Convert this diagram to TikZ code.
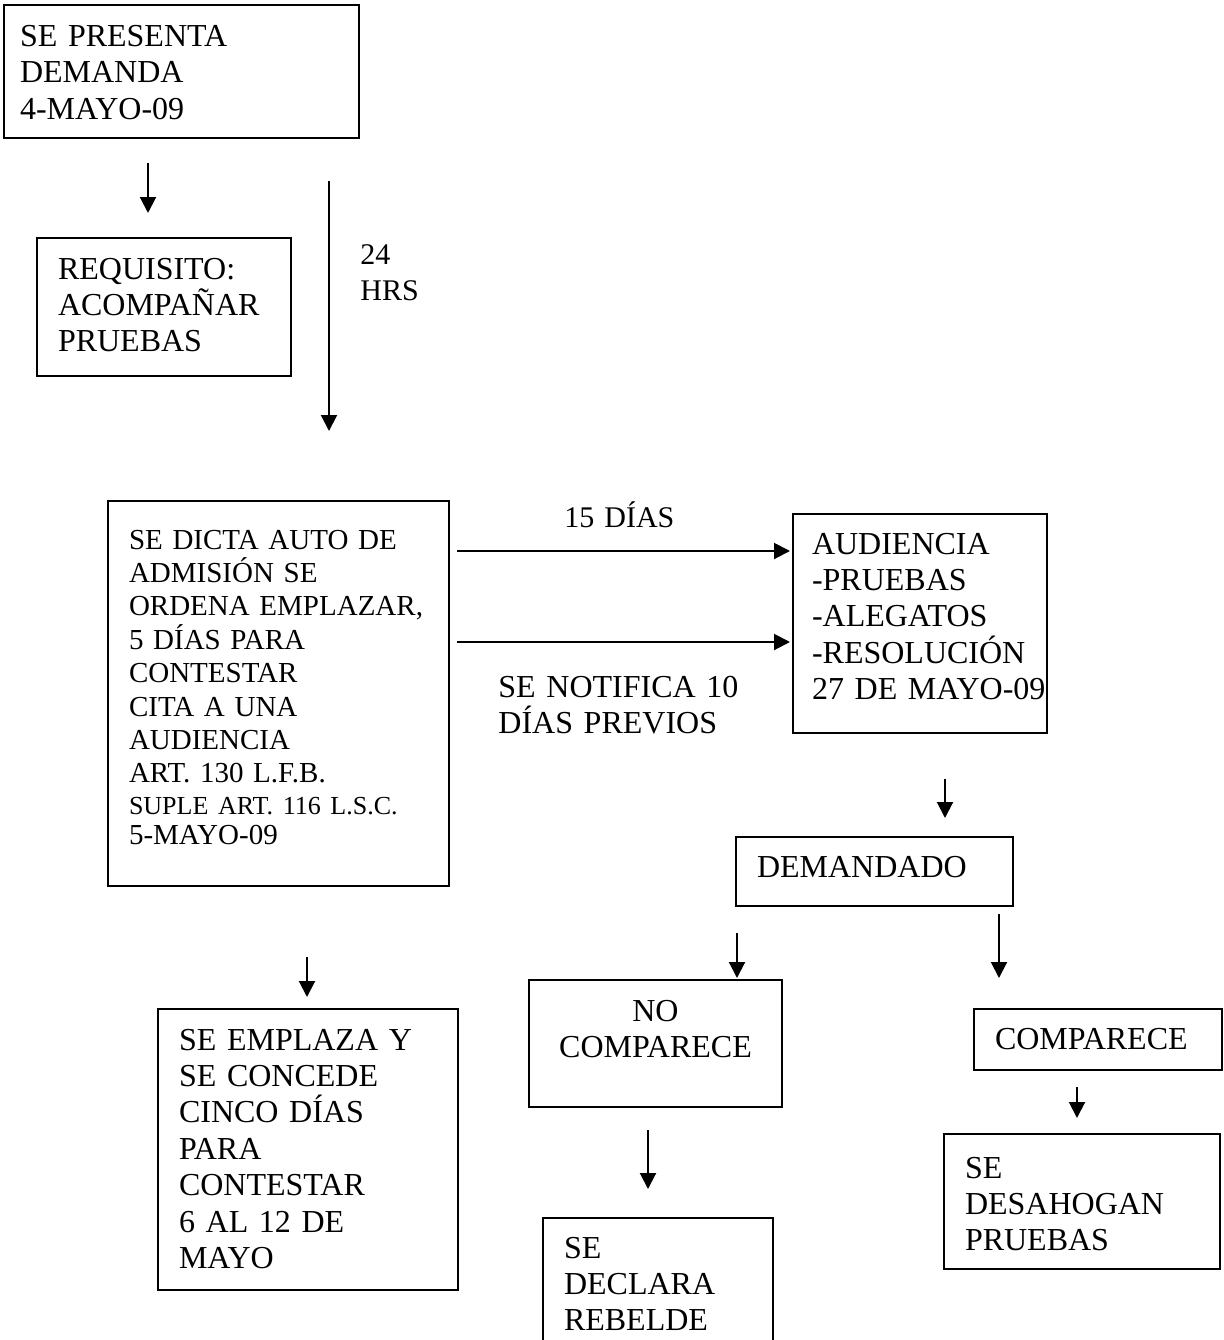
\documentclass[tikz,border=0pt]{standalone}
\usepackage{fontspec}
\setmainfont{Liberation Serif}
\usetikzlibrary{arrows.meta}

\begin{document}
\begin{tikzpicture}[x=1pt, y=-1pt,
    caja/.style={draw, line width=1pt, anchor=north west, inner sep=0pt, align=left,
        font=\fontsize{16}{18.2}\selectfont,
        execute at begin node={\leftskip=10.5pt\rightskip=-30pt plus 1fil}},
    nota/.style={anchor=base west, inner sep=0pt, align=left, text width=130pt,
        font=\fontsize{16}{18.4}\selectfont},
    flecha/.style={line width=1pt, -{Triangle[length=8pt,width=8pt]}}]

    \useasboundingbox (0,0) rectangle (611.5,670);

    %boxes
    \node[caja, text width=177.5pt, text height=20.5pt, text depth=46pt,
        font=\fontsize{16}{18.25}\selectfont,
        execute at begin node={\leftskip=8pt}]
        (presenta) at (1.5,2) {SE PRESENTA\\DEMANDA\\4-MAYO-09};
    \node[caja, text width=127pt, text height=20.5pt, text depth=48.5pt]
        (requisito) at (18,118.5) {REQUISITO:\\ACOMPAÑAR\\PRUEBAS};
    \node[caja, text width=170.5pt, text height=24pt, text depth=168.5pt,
        font=\fontsize{14.5}{16.7}\selectfont]
        (auto) at (53.5,250) {SE DICTA AUTO DE\\ADMISIÓN SE\\ORDENA EMPLAZAR,\\5 DÍAS PARA\\CONTESTAR\\CITA A UNA\\AUDIENCIA\\ART. 130 L.F.B.\\[-1pt]{\fontsize{13}{15}\selectfont SUPLE ART. 116 L.S.C.}\\[-1.5pt]5-MAYO-09};
    \node[caja, text width=127pt, text height=20pt, text depth=89.5pt,
        execute at begin node={\leftskip=9.5pt}]
        (audiencia) at (396,256.5) {AUDIENCIA\\-PRUEBAS\\-ALEGATOS\\-RESOLUCIÓN\\27 DE MAYO-09};
    \node[caja, text width=138.5pt, text height=20pt, text depth=14.5pt]
        (demandado) at (367.5,418) {DEMANDADO};
    \node[caja, text width=126.5pt, text height=20.5pt, text depth=43pt,
        align=center, execute at begin node={\leftskip=0pt plus 1fil\rightskip=0pt plus 1fil}]
        (nocomparece) at (264,489.5) {NO\\COMPARECE};
    \node[caja, text width=124pt, text height=20pt, text depth=10.5pt]
        (comparece) at (486.5,504) {COMPARECE};
    \node[caja, text width=150pt, text height=20.5pt, text depth=120pt]
        (emplaza) at (78.5,504) {SE EMPLAZA Y\\SE CONCEDE\\CINCO DÍAS\\PARA\\CONTESTAR\\6 AL 12 DE\\MAYO};
    \node[caja, text width=115pt, text height=20pt, text depth=61.5pt]
        (rebelde) at (271,608.5) {SE\\DECLARA\\REBELDE};
    \node[caja, text width=138pt, text height=22pt, text depth=45.5pt]
        (desahogan) at (471.5,566.5) {SE\\DESAHOGAN\\PRUEBAS};

    %labels
    \node[nota, font=\fontsize{15}{18}\selectfont] (horas) at (180,132) {24\\HRS};
    \node[nota, font=\fontsize{15}{18}\selectfont] (quince) at (282,263.5) {15 DÍAS};
    \node[nota] (notifica) at (249,348.5) {SE NOTIFICA 10\\DÍAS PREVIOS};

    %arrows
    \coordinate (a1) at (74,81.5);      \coordinate (b1) at (74,106.5);
    \coordinate (a2) at (164.5,90.5);   \coordinate (b2) at (164.5,215.5);
    \coordinate (a3) at (228.5,275.5);  \coordinate (b3) at (395,275.5);
    \coordinate (a4) at (228.5,321);    \coordinate (b4) at (395,321);
    \coordinate (a5) at (472.5,389.5);  \coordinate (b5) at (472.5,409);
    \coordinate (a6) at (153.5,478.5);  \coordinate (b6) at (153.5,498.5);
    \coordinate (a7) at (368.5,466.5);  \coordinate (b7) at (368.5,489);
    \coordinate (a8) at (499.5,457);    \coordinate (b8) at (499.5,489);
    \coordinate (a9) at (324,565);      \coordinate (b9) at (324,594.5);
    \coordinate (a10) at (538.5,543.5); \coordinate (b10) at (538.5,559);

    \foreach \i in {1,...,10}
        \draw[flecha] (a\i) -- (b\i);

\end{tikzpicture}
\end{document}
